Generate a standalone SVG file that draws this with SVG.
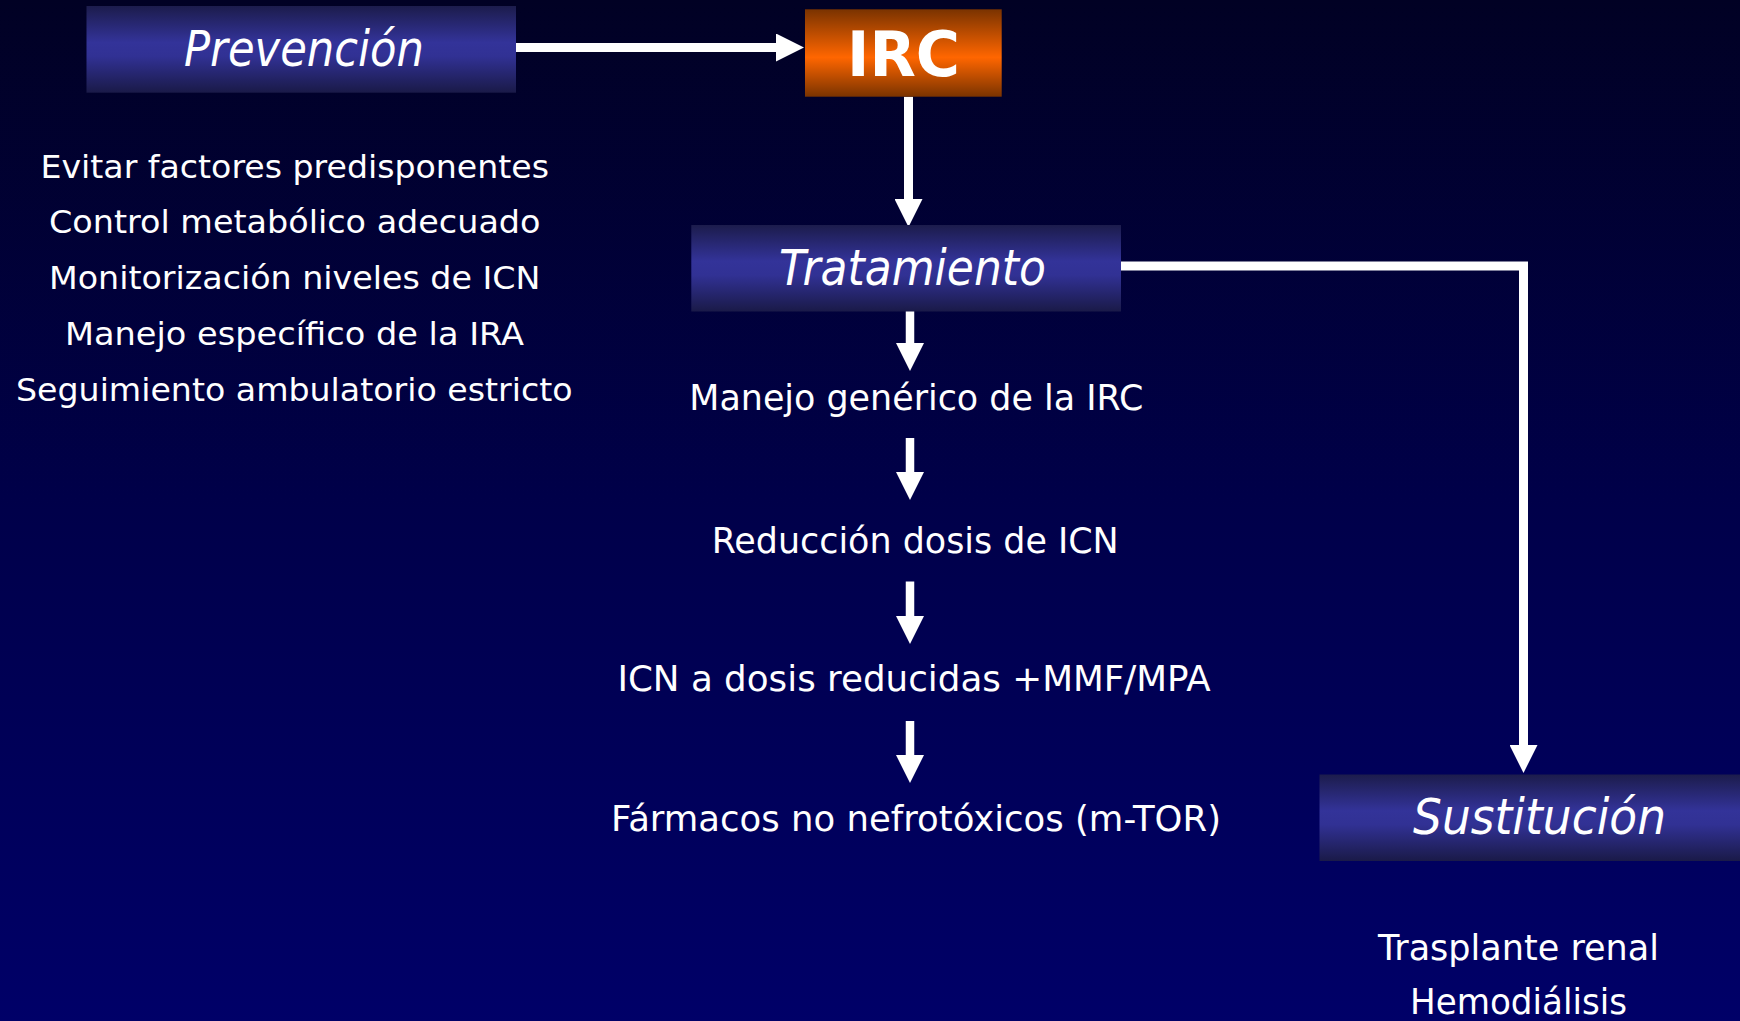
<svg xmlns="http://www.w3.org/2000/svg" width="1740" height="1021" viewBox="0 0 1740 1021">
<defs>
<linearGradient id="bg" x1="0" y1="0" x2="0" y2="1">
<stop offset="0" stop-color="#010124"/>
<stop offset="0.5" stop-color="#00004a"/>
<stop offset="1" stop-color="#000068"/>
</linearGradient>
<linearGradient id="blueBox" x1="0" y1="0" x2="0" y2="1">
<stop offset="0" stop-color="#1c1c4c"/>
<stop offset="0.42" stop-color="#333399"/>
<stop offset="0.58" stop-color="#313194"/>
<stop offset="1" stop-color="#1a1a48"/>
</linearGradient>
<linearGradient id="orangeBox" x1="0" y1="0" x2="0" y2="1">
<stop offset="0" stop-color="#7a3300"/>
<stop offset="0.55" stop-color="#ff6600"/>
<stop offset="1" stop-color="#7a3300"/>
</linearGradient>
<marker id="ah" markerUnits="userSpaceOnUse" markerWidth="28" markerHeight="28" viewBox="0 0 28 28" refX="1" refY="14" orient="auto">
<path d="M0,0 L28,14 L0,28 z" fill="#ffffff"/>
</marker>
</defs>
<style>
.conn{fill:none;stroke:#ffffff;stroke-width:9;stroke-linejoin:miter;marker-end:url(#ah)}
.small{fill:none;stroke:#ffffff;stroke-width:8.5;marker-end:url(#ah)}
.hdr{font-family:"DejaVu Sans",sans-serif;font-style:italic;font-size:50px;fill:#ffffff}
.irc{font-family:"DejaVu Sans",sans-serif;font-weight:bold;font-size:63px;fill:#ffffff}
.lst{font-family:"DejaVu Sans",sans-serif;font-size:32px;fill:#ffffff}
.mid{font-family:"DejaVu Sans",sans-serif;font-size:35px;fill:#ffffff}
</style>
<rect x="0" y="0" width="1740" height="1021" fill="url(#bg)"/>

<g id="connectors">
<path class="conn" d="M516,47.5 H777"/>
<path class="conn" d="M908.5,96.7 V200"/>
<path class="conn" stroke-width="8" d="M1121,266 H1523.5 V746"/>
<path class="small" d="M910,310 V344"/>
<path class="small" d="M910,438 V473"/>
<path class="small" d="M910,581.5 V617"/>
<path class="small" d="M910,721 V756"/>
</g>

<g id="prevencion">
<rect x="86.5" y="6" width="429.5" height="86.7" fill="url(#blueBox)"/>
<text class="hdr" x="184" y="66" textLength="240" lengthAdjust="spacingAndGlyphs">Prevención</text>
</g>

<g id="irc">
<rect x="805" y="9.3" width="196.7" height="87.4" fill="url(#orangeBox)"/>
<text class="irc" x="847" y="76" textLength="113" lengthAdjust="spacingAndGlyphs">IRC</text>
</g>

<g id="tratamiento">
<rect x="691.3" y="225" width="429.7" height="86.5" fill="url(#blueBox)"/>
<text class="hdr" x="779" y="285" textLength="267" lengthAdjust="spacingAndGlyphs">Tratamiento</text>
</g>

<g id="sustitucion">
<rect x="1319.5" y="774.5" width="420.5" height="86.5" fill="url(#blueBox)"/>
<text class="hdr" x="1413" y="834" textLength="253" lengthAdjust="spacingAndGlyphs">Sustitución</text>
</g>

<g id="prevencion-list">
<text class="lst" x="40.5" y="177.7" textLength="508.5" lengthAdjust="spacingAndGlyphs">Evitar factores predisponentes</text>
<text class="lst" x="49" y="233" textLength="491.5" lengthAdjust="spacingAndGlyphs">Control metabólico adecuado</text>
<text class="lst" x="49" y="289" textLength="491.5" lengthAdjust="spacingAndGlyphs">Monitorización niveles de ICN</text>
<text class="lst" x="65" y="345" textLength="459" lengthAdjust="spacingAndGlyphs">Manejo específico de la IRA</text>
<text class="lst" x="16" y="400.5" textLength="556.5" lengthAdjust="spacingAndGlyphs">Seguimiento ambulatorio estricto</text>
</g>

<g id="manejo-generico">
<text class="mid" x="689.3" y="410" textLength="454" lengthAdjust="spacingAndGlyphs">Manejo genérico de la IRC</text>
</g>
<g id="reduccion-dosis">
<text class="mid" x="711.7" y="552.7" textLength="407" lengthAdjust="spacingAndGlyphs">Reducción dosis de ICN</text>
</g>
<g id="icn-mmf">
<text class="mid" x="617.4" y="691" textLength="593.4" lengthAdjust="spacingAndGlyphs">ICN a dosis reducidas +MMF/MPA</text>
</g>
<g id="farmacos">
<text class="mid" x="611" y="831" textLength="610" lengthAdjust="spacingAndGlyphs">Fármacos no nefrotóxicos (m-TOR)</text>
</g>

<g id="sustitucion-list">
<text class="mid" x="1378" y="960" textLength="281" lengthAdjust="spacingAndGlyphs">Trasplante renal</text>
<text class="mid" x="1410" y="1014" textLength="217" lengthAdjust="spacingAndGlyphs">Hemodiálisis</text>
</g>
</svg>
